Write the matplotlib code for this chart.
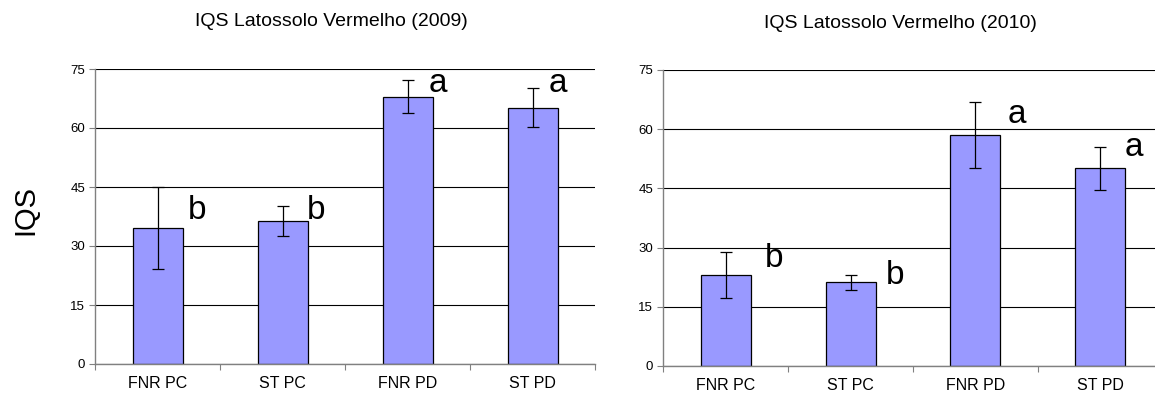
import matplotlib
matplotlib.use("Agg")
import matplotlib.pyplot as plt
import numpy as np

plt.rcParams['font.family'] = ['Liberation Sans', 'DejaVu Sans']

categories = ["FNR PC", "ST PC", "FNR PD", "ST PD"]

iqs_2009 = [34.5, 36.4, 68.0, 65.2]
err_2009 = [10.4, 3.75, 4.2, 4.85]
letters_2009 = ["b", "b", "a", "a"]

iqs_2010 = [23.1, 21.25, 58.5, 50.1]
err_2010 = [5.8, 1.9, 8.4, 5.5]
letters_2010 = ["b", "b", "a", "a"]

y_ticks = [0, 15, 30, 45, 60, 75]

# letter placement (x offset from bar centre in category units, baseline y)
letter_dx_2009 = [0.32, 0.27, 0.24, 0.20]
letter_y_2009 = [36.8, 36.8, 69.1, 69.1]
letter_dx_2010 = [0.39, 0.36, 0.33, 0.27]
letter_y_2010 = [25.1, 20.7, 61.5, 53.2]

W, H = 1155, 394
fig = plt.figure(figsize=(W / 100, H / 100), dpi=100)


def panel(rect, values, errs, letters, ldx, ly):
    ax = fig.add_axes(rect)
    x = np.arange(len(categories))
    ax.set_axisbelow(True)
    ax.yaxis.grid(True, color='black', linewidth=0.8)
    ax.bar(x, values, width=0.4, color='#9999FF', edgecolor='black',
           linewidth=0.9, zorder=2)
    ax.errorbar(x, values, yerr=errs, fmt='none', ecolor='black',
                elinewidth=0.9, capsize=4.5, capthick=0.9, zorder=3)
    for xi, t, dx, yy in zip(x, letters, ldx, ly):
        ax.text(xi + dx, yy, t, fontsize=24, ha='center', va='baseline',
                zorder=4)
    ax.set_xlim(-0.5, len(categories) - 0.5)
    ax.set_ylim(0, 75)
    ax.set_yticks(y_ticks)
    ax.set_xticks(np.arange(len(categories) + 1) - 0.5)
    ax.set_xticklabels([])
    ax.set_xticks(x, minor=True)
    ax.set_xticklabels(categories, minor=True, fontsize=11.5)
    ax.tick_params(axis='x', which='major', direction='out', length=4.3,
                   width=0.8, color='#808080')
    ax.tick_params(axis='x', which='minor', length=0, pad=9)
    ax.tick_params(axis='y', direction='out', length=4.3, width=0.8,
                   color='#808080', pad=2.9, labelsize=9.5)
    for s in ('top', 'right'):
        ax.spines[s].set_visible(False)
    for s in ('left', 'bottom'):
        ax.spines[s].set_color('#808080')
        ax.spines[s].set_linewidth(1.0)
    return ax


panel([95 / W, 1 - 364 / H, 500 / W, 295 / H],
      iqs_2009, err_2009, letters_2009, letter_dx_2009, letter_y_2009)
panel([663 / W, 1 - 366 / H, 500 / W, 296 / H],
      iqs_2010, err_2010, letters_2010, letter_dx_2010, letter_y_2010)

fig.text(331 / W, 1 - 21 / H, "IQS Latossolo Vermelho (2009)", fontsize=14,
         ha='center', va='center')
fig.text(900 / W, 1 - 23 / H, "IQS Latossolo Vermelho (2010)", fontsize=14,
         ha='center', va='center')
fig.text(25 / W, 1 - 210 / H, "IQS", fontsize=21, rotation=90,
         ha='center', va='center')

fig.savefig("out.png", dpi=100)
